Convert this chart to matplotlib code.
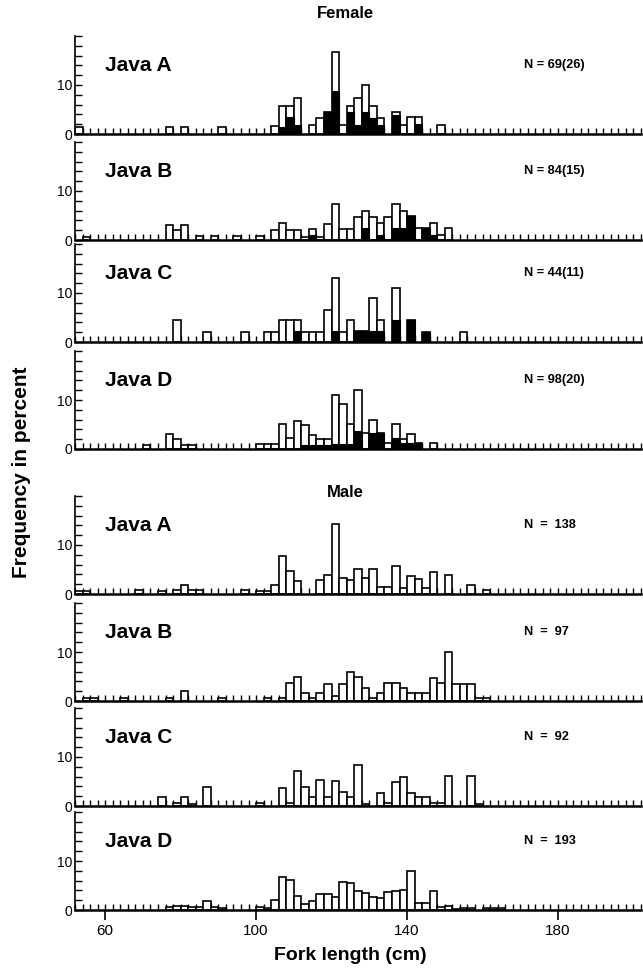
import matplotlib
matplotlib.use('Agg')
import matplotlib.pyplot as plt
import numpy as np

plt.rcParams['font.family'] = ['Liberation Sans', 'DejaVu Sans']

# fork length classes are 2 cm wide, value = left edge of class
# female: total % and the black (mature?) part %
fa_bins = [52, 76, 80, 90, 104, 106, 108, 110, 114, 116, 118, 120, 122, 124, 126, 128, 130, 132, 136, 138, 140, 142, 148]
fa_tot = [1.5, 1.5, 1.5, 1.5, 1.7, 5.8, 5.8, 7.3, 1.8, 3.2, 4.4, 16.8, 1.8, 5.8, 7.3, 10, 5.8, 3.2, 4.4, 1.8, 3.4, 3.4, 1.8]
fa_blk = [0, 0, 0, 0, 0, 1.5, 3.4, 1.8, 0, 0, 4.4, 8.7, 0, 4.4, 1.8, 4.4, 3.2, 1.8, 3.9, 0, 0, 2.1, 0]

fb_bins = [54, 76, 78, 80, 84, 88, 94, 100, 104, 106, 108, 110, 112, 114, 116, 118, 120, 122, 124, 126, 128, 130, 132, 134, 136, 138, 140, 142, 144, 146, 148, 150]
fb_tot = [0.7, 3.0, 2.0, 3.0, 0.8, 0.8, 0.8, 0.8, 2.0, 3.4, 2.0, 2.0, 0.7, 2.2, 0.7, 3.2, 7.3, 2.2, 2.2, 4.7, 5.9, 4.7, 3.5, 4.7, 7.3, 5.9, 4.9, 2.4, 2.4, 3.4, 1.0, 2.4]
fb_blk = [0, 0, 0, 0, 0, 0, 0, 0, 0, 0, 0, 0, 0, 1.0, 0, 0, 0, 0, 0, 0, 2.4, 0, 1.1, 0, 2.4, 2.4, 4.9, 0, 2.4, 1.0, 0, 0]

fc_bins = [78, 86, 96, 102, 104, 106, 108, 110, 112, 114, 116, 118, 120, 122, 124, 126, 128, 130, 132, 136, 140, 144, 154]
fc_tot = [4.4, 2.1, 2.1, 2.0, 2.0, 4.4, 4.4, 4.4, 2.0, 2.0, 2.0, 6.6, 13.1, 2.0, 4.4, 2.2, 2.2, 8.9, 4.4, 11, 4.4, 2.1, 2.1]
fc_blk = [0, 0, 0, 0, 0, 0, 0, 2.2, 0, 0, 0, 0, 2.2, 0, 0, 2.2, 2.2, 2.2, 2.2, 4.4, 4.4, 2.1, 0]

fd_bins = [70, 76, 78, 80, 82, 100, 102, 104, 106, 108, 110, 112, 114, 116, 118, 120, 122, 124, 126, 128, 130, 132, 134, 136, 138, 140, 142, 146]
fd_tot = [0.9, 3.1, 2.0, 0.9, 0.9, 1.1, 1.1, 1.1, 5.0, 2.2, 5.8, 4.9, 2.9, 2.0, 2.0, 11, 9.1, 5.0, 12, 3.2, 6.0, 3.2, 1.2, 5.1, 2.1, 3.1, 1.2, 1.2]
fd_blk = [0, 0, 0, 0, 0, 0, 0, 0, 0, 0, 0, 0.9, 0.9, 0.9, 0.9, 1.1, 1.1, 1.1, 3.7, 0, 3.2, 3.2, 0, 2.2, 1.2, 1.2, 1.2, 0]

# male
ma_bins = [52, 54, 68, 74, 78, 80, 82, 84, 96, 100, 102, 104, 106, 108, 110, 116, 118, 120, 122, 124, 126, 128, 130, 132, 134, 136, 138, 140, 142, 144, 146, 150, 156, 160]
ma_tot = [0.7, 0.7, 0.8, 0.6, 0.8, 1.8, 0.9, 0.9, 0.8, 0.6, 0.6, 1.8, 7.7, 4.6, 2.7, 2.8, 3.8, 14.2, 3.3, 2.8, 5.2, 3.3, 5.2, 1.5, 1.5, 5.8, 1.3, 3.6, 3.0, 1.2, 4.4, 3.8, 1.9, 0.8]

mb_bins = [54, 56, 64, 76, 80, 90, 102, 106, 108, 110, 112, 114, 116, 118, 120, 122, 124, 126, 128, 130, 132, 134, 136, 138, 140, 142, 144, 146, 148, 150, 152, 154, 156, 158, 160]
mb_tot = [0.7, 0.7, 0.7, 0.7, 2.0, 0.7, 0.7, 0.7, 3.7, 4.9, 1.7, 0.7, 1.7, 3.5, 1.0, 3.5, 5.9, 4.9, 2.6, 0.7, 1.7, 3.7, 3.7, 2.6, 1.7, 1.7, 1.7, 4.7, 3.7, 10, 3.5, 3.5, 3.5, 0.7, 0.7]

mc_bins = [74, 78, 80, 82, 86, 100, 106, 108, 110, 112, 114, 116, 118, 120, 122, 124, 126, 128, 132, 134, 136, 138, 140, 142, 144, 146, 148, 150, 156, 158]
mc_tot = [1.9, 0.7, 1.9, 0.5, 3.8, 0.7, 3.6, 0.7, 7.2, 3.8, 1.9, 5.4, 1.9, 5.1, 2.9, 1.9, 8.3, 0.5, 2.7, 0.7, 4.9, 5.9, 2.7, 1.8, 1.8, 0.7, 0.7, 6.1, 6.1, 0.5]

md_bins = [76, 78, 80, 82, 84, 86, 88, 90, 100, 102, 104, 106, 108, 110, 112, 114, 116, 118, 120, 122, 124, 126, 128, 130, 132, 134, 136, 138, 140, 142, 144, 146, 148, 150, 152, 154, 156, 160, 162, 164]
md_tot = [0.6, 0.8, 0.9, 0.7, 0.7, 1.8, 0.6, 0.4, 0.7, 0.5, 2.0, 6.8, 6.1, 2.9, 1.3, 1.8, 3.2, 3.2, 2.7, 5.7, 5.6, 3.9, 3.4, 2.7, 2.4, 3.6, 3.9, 4.1, 7.9, 1.4, 1.4, 3.9, 0.7, 0.9, 0.3, 0.4, 0.4, 0.5, 0.4, 0.4]

names = ['Java A', 'Java B', 'Java C', 'Java D']
female_n = ['N = 69(26)', 'N = 84(15)', 'N = 44(11)', 'N = 98(20)']
male_n = ['N  =  138', 'N  =  97', 'N  =  92', 'N  =  193']

female = [(fa_bins, fa_tot, fa_blk), (fb_bins, fb_tot, fb_blk),
          (fc_bins, fc_tot, fc_blk), (fd_bins, fd_tot, fd_blk)]
male = [(ma_bins, ma_tot, None), (mb_bins, mb_tot, None),
        (mc_bins, mc_tot, None), (md_bins, md_tot, None)]

W, H = 643, 971
fig = plt.figure(figsize=(W / 100, H / 100), dpi=100)

# pixel row of the zero line of each panel
bases = [134, 240, 342, 449, 594, 701, 806, 910]

panels = list(zip(names, female_n, female)) + list(zip(names, male_n, male))
for i, (name, ntxt, (bins, tot, blk)) in enumerate(panels):
    base = bases[i]
    ax = fig.add_axes([75 / W, 1 - base / H, 566 / W, 98 / H])
    ax.bar(bins, tot, width=2, align='edge', color='white', edgecolor='black', linewidth=1.2, zorder=2)
    if blk is not None:
        ax.bar(bins, blk, width=2, align='edge', color='black', edgecolor='black', linewidth=0.8, zorder=3)
    ax.set_xlim(52, 202)
    ax.set_ylim(0, 20)
    ax.spines['top'].set_visible(False)
    ax.spines['right'].set_visible(False)
    ax.spines['bottom'].set_linewidth(1.8)
    ax.spines['left'].set_linewidth(1.2)
    ax.set_yticks([0, 10])
    ax.set_yticklabels(['0', '10'], fontsize=10)
    ax.set_yticks(np.arange(0, 21, 2), minor=True)
    ax.tick_params(axis='y', which='both', direction='in', length=5, width=1.0, pad=2)
    ax.xaxis.remove_overlapping_locs = False
    ax.set_xticks(np.arange(52, 203, 2), minor=True)
    ax.tick_params(axis='x', which='minor', direction='in', length=4, width=1.0)
    if i == 7:
        ax.set_xticks([60, 100, 140, 180])
        ax.set_xticklabels(['60', '100', '140', '180'], fontsize=11)
        ax.tick_params(axis='x', which='major', direction='out', length=7, width=1.2, pad=3)
    else:
        ax.set_xticks([])
    ax.text(60, 14, name, fontsize=15, fontweight='bold', va='center', ha='left')
    ax.text(171, 14, ntxt, fontsize=9.2, fontweight='bold', va='center', ha='left')

fig.text(345 / W, 1 - 14 / H, 'Female', fontsize=12, fontweight='bold', ha='center', va='center')
fig.text(345 / W, 1 - 492 / H, 'Male', fontsize=12, fontweight='bold', ha='center', va='center')
fig.text(22 / W, 1 - 472 / H, 'Frequency in percent', fontsize=15, fontweight='bold',
         rotation=90, ha='center', va='center')
fig.text(350 / W, 1 - 955 / H, 'Fork length (cm)', fontsize=14, fontweight='bold', ha='center', va='center')

fig.savefig('out.png', dpi=100)
